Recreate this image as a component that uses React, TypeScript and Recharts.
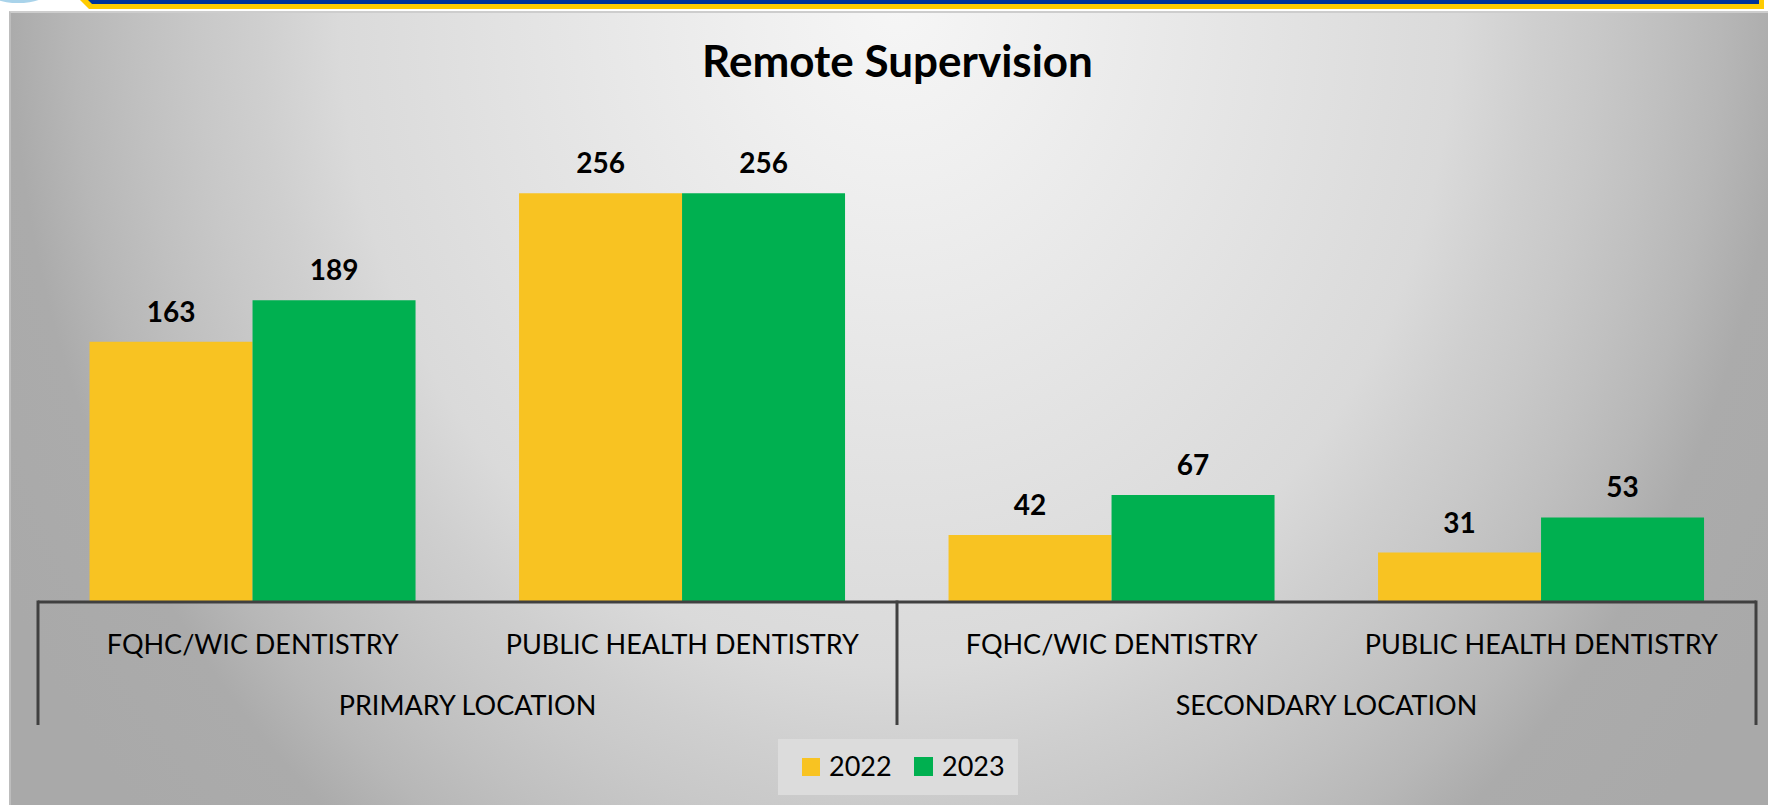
import React from 'react';
import { BarChart, Bar, XAxis, YAxis, LabelList, Legend } from 'recharts';

const categories = ['FQHC/WIC DENTISTRY', 'PUBLIC HEALTH DENTISTRY', 'FQHC/WIC DENTISTRY', 'PUBLIC HEALTH DENTISTRY'];
const groups = ['PRIMARY LOCATION', 'PRIMARY LOCATION', 'SECONDARY LOCATION', 'SECONDARY LOCATION'];
const values2022 = [163, 256, 42, 31];
const values2023 = [189, 256, 67, 53];
const seriesNames = ['2022', '2023'];
const yTicks = [0, 300];

const data = categories.map((c, i) => ({
  category: c,
  group: groups[i],
  y2022: values2022[i],
  y2023: values2023[i],
}));

const YELLOW = '#F8C322';
const GREEN = '#00B050';
const FONT = 'Lato, "Open Sans", sans-serif';
const AXIS = '#404040';

const renderTick = (props: any) => {
  const { x, y, payload, index } = props;
  const half = payload && typeof payload.offset === 'number' && payload.offset > 0 ? payload.offset : 214.75;
  return (
    <g>
      <text x={x} y={y + 52} textAnchor="middle" fontFamily={FONT} fontSize={27} fill="#000">
        {payload.value}
      </text>
      {index % 2 === 0 && (
        <text x={x + half} y={y + 113} textAnchor="middle" fontFamily={FONT} fontSize={27} fill="#000">
          {groups[index]}
        </text>
      )}
      {index % 2 === 0 && (
        <line x1={x - half} x2={x - half} y1={y - 1.5} y2={y + 123} stroke={AXIS} strokeWidth={3} />
      )}
      {index === categories.length - 1 && (
        <line x1={x + half} x2={x + half} y1={y - 1.5} y2={y + 123} stroke={AXIS} strokeWidth={3} />
      )}
    </g>
  );
};

const renderLegend = () => (
  <svg width={240} height={56} style={{ display: 'block' }}>
    <rect x={0} y={0} width={240} height={56} fill="#dcdcdc" />
    <rect x={24} y={19} width={18} height={18} fill={YELLOW} />
    <text x={51} y={37} fontFamily={FONT} fontSize={27} fill="#000">{seriesNames[0]}</text>
    <rect x={136} y={18} width={19} height={19} fill={GREEN} />
    <text x={164} y={37} fontFamily={FONT} fontSize={27} fill="#000">{seriesNames[1]}</text>
  </svg>
);

export default function App() {
  return (
    <div style={{ position: 'absolute', left: 0, top: 0, width: 1768, height: 805, background: '#fff', overflow: 'hidden' }}>
      {/* banner */}
      <svg width={1768} height={12} style={{ position: 'absolute', left: 0, top: 0 }}>
        <ellipse cx={18} cy={-8} rx={30} ry={11} fill="#a9d3ea" />
        <polygon points="80,0 1764,0 1764,9 89,9" fill="#FFCC00" />
        <polygon points="88,0 1759,0 1759,4 92,4" fill="#003399" />
      </svg>
      {/* panel */}
      <div
        style={{
          position: 'absolute',
          left: 9,
          top: 11,
          width: 1759,
          height: 794,
          boxSizing: 'border-box',
          borderTop: '2px solid #cdcdcd',
          borderLeft: '2px solid #bdbdbd',
          background:
            'radial-gradient(886px 1055px at 886px -11px, #f6f6f6 0%, #efefef 17%, #dddddd 56%, #dadada 63%, #cfcfcf 72%, #c8c8c8 79%, #c0c0c0 86%, #b7b7b7 93%, #ababab 100%, #a9a9a9 115%)',
        }}
      />
      <div style={{ position: 'absolute', left: 0, top: 0 }}>
        <BarChart
          width={1768}
          height={805}
          data={data}
          margin={{ top: 123, right: 12, left: 38, bottom: 22 }}
          barCategoryGap="12%"
          barGap={0}
        >
          <XAxis
            dataKey="category"
            height={125}
            interval={0}
            tickSize={0}
            tickMargin={0}
            tickLine={false}
            axisLine={{ stroke: AXIS, strokeWidth: 3 }}
            tick={renderTick}
          />
          <YAxis hide domain={[yTicks[0], yTicks[1]]} ticks={yTicks} />
          <Legend
            content={renderLegend}
            wrapperStyle={{ position: 'absolute', left: 778, top: 739, bottom: 'auto', width: 240, height: 56 }}
          />
          <Bar dataKey="y2022" name={seriesNames[0]} fill={YELLOW} isAnimationActive={false}>
            <LabelList dataKey="y2022" position="top" offset={20} fill="#000" fontFamily={FONT} fontWeight={700} fontSize={28} />
          </Bar>
          <Bar dataKey="y2023" name={seriesNames[1]} fill={GREEN} isAnimationActive={false}>
            <LabelList dataKey="y2023" position="top" offset={20} fill="#000" fontFamily={FONT} fontWeight={700} fontSize={28} />
          </Bar>
        </BarChart>
      </div>
      <svg width={1768} height={110} style={{ position: 'absolute', left: 0, top: 0, pointerEvents: 'none' }}>
        <text x={897.5} y={77} textAnchor="middle" fontFamily={FONT} fontWeight={700} fontSize={44} fill="#000">
          Remote Supervision
        </text>
      </svg>
    </div>
  );
}
